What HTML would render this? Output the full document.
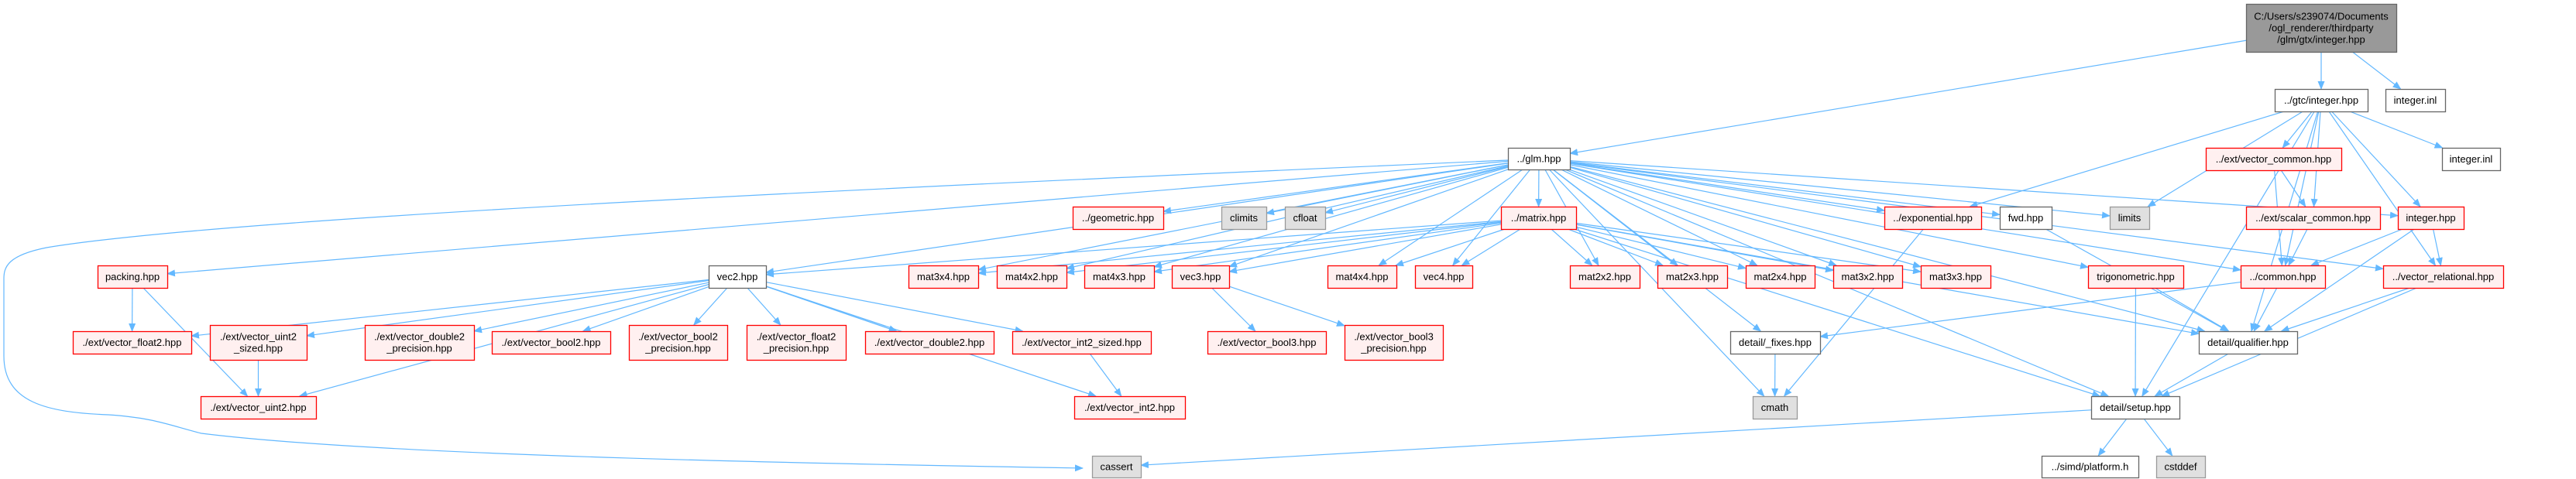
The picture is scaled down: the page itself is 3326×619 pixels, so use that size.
<!DOCTYPE html>
<html><head><meta charset="utf-8"><style>
html,body{margin:0;padding:0;background:#fff;}
svg{display:block;}
text{font-family:"Liberation Sans",sans-serif;font-size:13px;fill:#000;}
</style></head><body>
<svg id="g" width="3326" height="619" viewBox="0 0 3326 619" xmlns="http://www.w3.org/2000/svg">
<defs><marker id="a" markerWidth="11" markerHeight="9" refX="10" refY="4.5" orient="auto" markerUnits="userSpaceOnUse"><path d="M0,0 L11,4.5 L0,9 z" fill="#63b8ff"/></marker></defs>
<g id="edges" fill="none" stroke="#63b8ff" stroke-width="1.2">
<path d="M1947,207 C1200,240 300,280 60,320 C10,330 5,345 5,360 L5,460 C5,520 60,533 140,536 C200,540 220,550 260,560 C500,590 1100,600 1398,605" marker-end="url(#a)"/>
</g>
<g id="nodes"></g>
</svg>
<script>
var N={
top:[2900,5,3094,67,'t',['C:/Users/s239074/Documents','/ogl_renderer/thirdparty','/glm/gtx/integer.hpp']],
gtc:[2937,115,3057,144,'w',['../gtc/integer.hpp']],
inl1:[3080,115,3157,144,'w',['integer.inl']],
glm:[1947,191,2027,219,'w',['../glm.hpp']],
vcom:[2848,191,3023,220,'r',['../ext/vector_common.hpp']],
inl2:[3153,191,3228,220,'w',['integer.inl']],
geo:[1385,267,1502,296,'r',['../geometric.hpp']],
climits:[1577,267,1635,296,'g',['climits']],
cfloat:[1659,267,1711,296,'g',['cfloat']],
matrix:[1938,267,2035,296,'r',['../matrix.hpp']],
expo:[2433,267,2558,296,'r',['../exponential.hpp']],
fwd:[2582,267,2649,296,'w',['fwd.hpp']],
limits:[2724,267,2775,296,'g',['limits']],
scom:[2900,267,3073,296,'r',['../ext/scalar_common.hpp']],
inth:[3096,267,3181,296,'r',['integer.hpp']],
packing:[126,343,216,372,'r',['packing.hpp']],
vec2:[915,343,989,372,'w',['vec2.hpp']],
m34:[1173,343,1263,372,'r',['mat3x4.hpp']],
m42:[1287,343,1377,372,'r',['mat4x2.hpp']],
m43:[1400,343,1490,372,'r',['mat4x3.hpp']],
vec3:[1513,343,1587,372,'r',['vec3.hpp']],
m44:[1714,343,1803,372,'r',['mat4x4.hpp']],
vec4:[1827,343,1901,372,'r',['vec4.hpp']],
m22:[2027,343,2117,372,'r',['mat2x2.hpp']],
m23:[2140,343,2230,372,'r',['mat2x3.hpp']],
m24:[2254,343,2343,372,'r',['mat2x4.hpp']],
m32:[2367,343,2456,372,'r',['mat3x2.hpp']],
m33:[2480,343,2570,372,'r',['mat3x3.hpp']],
trig:[2696,343,2819,372,'r',['trigonometric.hpp']],
common:[2893,343,3002,372,'r',['../common.hpp']],
vrel:[3077,343,3232,372,'r',['../vector_relational.hpp']],
vf2:[94,428,247,457,'r',['./ext/vector_float2.hpp']],
vu2s:[271,420,396,465,'r',['./ext/vector_uint2','_sized.hpp']],
vd2p:[471,420,612,465,'r',['./ext/vector_double2','_precision.hpp']],
vb2:[635,428,788,457,'r',['./ext/vector_bool2.hpp']],
vb2p:[812,420,939,465,'r',['./ext/vector_bool2','_precision.hpp']],
vf2p:[964,420,1092,465,'r',['./ext/vector_float2','_precision.hpp']],
vd2:[1117,428,1283,457,'r',['./ext/vector_double2.hpp']],
vi2s:[1307,428,1486,457,'r',['./ext/vector_int2_sized.hpp']],
vb3:[1559,428,1712,457,'r',['./ext/vector_bool3.hpp']],
vb3p:[1736,420,1863,465,'r',['./ext/vector_bool3','_precision.hpp']],
fixes:[2234,428,2350,457,'w',['detail/_fixes.hpp']],
qual:[2839,428,2966,457,'w',['detail/qualifier.hpp']],
vu2:[259,512,408,541,'r',['./ext/vector_uint2.hpp']],
vi2:[1387,512,1530,541,'r',['./ext/vector_int2.hpp']],
cmath:[2263,512,2320,541,'g',['cmath']],
setup:[2700,512,2814,541,'w',['detail/setup.hpp']],
cassert:[1410,589,1473,617,'g',['cassert']],
plat:[2636,589,2761,617,'w',['../simd/platform.h']],
cstddef:[2784,589,2847,617,'g',['cstddef']]
};
var E=[['top','glm'],['top','gtc'],['top','inl1'],
['gtc','expo'],['gtc','limits'],['gtc','common'],['gtc','vcom'],['gtc','scom'],['gtc','inl2'],['gtc','inth'],['gtc','vrel'],['gtc','qual'],['gtc','setup'],
['glm','packing'],['glm','vec2'],['glm','geo'],['glm','climits'],['glm','cfloat'],['glm','matrix'],['glm','m34'],['glm','m42'],['glm','m43'],['glm','vec3'],['glm','m44'],['glm','vec4'],['glm','m22'],['glm','m23'],['glm','m24'],['glm','m32'],['glm','m33'],['glm','expo'],['glm','fwd'],['glm','limits'],['glm','inth'],['glm','vrel'],['glm','common'],['glm','trig'],['glm','fixes'],['glm','cmath'],['glm','setup'],['glm','qual'],
['matrix','vec2'],['matrix','m34'],['matrix','m42'],['matrix','m43'],['matrix','vec3'],['matrix','m44'],['matrix','vec4'],['matrix','m22'],['matrix','m23'],['matrix','m24'],['matrix','m32'],['matrix','m33'],['matrix','qual'],['matrix','setup'],
['packing','vf2'],['packing','vu2'],
['vec2','vf2'],['vec2','vu2s'],['vec2','vu2'],['vec2','vd2p'],['vec2','vb2'],['vec2','vb2p'],['vec2','vf2p'],['vec2','vd2'],['vec2','vi2s'],['vec2','vi2'],
['vu2s','vu2'],['vi2s','vi2'],['vec3','vb3'],['vec3','vb3p'],['expo','cmath'],['fwd','qual'],['trig','qual'],['trig','setup'],
['common','fixes'],['common','qual'],['vcom','scom'],['vcom','common'],['scom','common'],['inth','common'],['inth','qual'],['inth','vrel'],
['vrel','qual'],['vrel','setup'],['qual','setup'],['fixes','cmath'],['setup','plat'],['setup','cstddef'],['setup','cassert']];
var NS='http://www.w3.org/2000/svg';
function el(t,a,p){var e=document.createElementNS(NS,t);for(var k in a)e.setAttribute(k,a[k]);p.appendChild(e);return e;}
function bp(n,tx,ty){var cx=(n[0]+n[2])/2,cy=(n[1]+n[3])/2,w=(n[2]-n[0])/2,h=(n[3]-n[1])/2,dx=tx-cx,dy=ty-cy;if(dx==0&&dy==0)return[cx,cy];var s=Math.min(dx?w/Math.abs(dx):1e9,dy?h/Math.abs(dy):1e9);return[cx+dx*s,cy+dy*s];}
var eg=document.getElementById('edges');
E.forEach(function(e){var a=N[e[0]],b=N[e[1]];var ac=[(a[0]+a[2])/2,(a[1]+a[3])/2],bc=[(b[0]+b[2])/2,(b[1]+b[3])/2];
var p=bp(a,bc[0],bc[1]),q=bp(b,ac[0],ac[1]);
el('path',{d:'M'+p[0]+','+p[1]+' L'+q[0]+','+q[1],'marker-end':'url(#a)'},eg);});
var ng=document.getElementById('nodes');
var S={t:['#999999','#666666'],w:['#ffffff','#666666'],r:['#fff0f0','#ff0000'],g:['#e0e0e0','#999999']};
for(var k in N){var n=N[k];el('rect',{x:n[0]+.5,y:n[1]+.5,width:n[2]-n[0],height:n[3]-n[1],fill:S[n[4]][0],stroke:S[n[4]][1],'stroke-width':1.3},ng);
var L=n[5],cx=(n[0]+n[2])/2,cy=(n[1]+n[3])/2;L.forEach(function(s,i){var t=el('text',{x:cx,y:cy+(i-(L.length-1)/2)*15+4.5,'text-anchor':'middle'},ng);t.textContent=s;});}
</script>
</body></html>
